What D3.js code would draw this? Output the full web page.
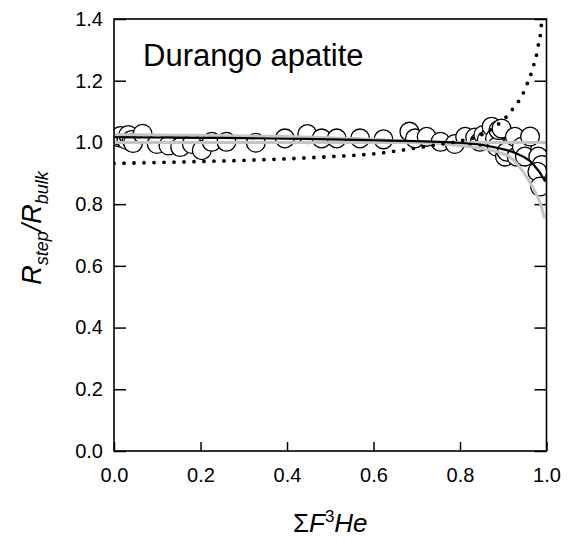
<!DOCTYPE html>
<html>
<head>
<meta charset="utf-8">
<script src="https://cdn.jsdelivr.net/npm/d3@7.9.0/dist/d3.min.js"></script>
<style>
  body { margin: 0; background: #fff; }
  svg text { font-family: "Liberation Sans", Arial, sans-serif; fill: #000; }
</style>
</head>
<body>
<svg id="chart" width="574" height="540"></svg>
<script>
// measured step data (circles)
const obsX = [0.012, 0.015, 0.029, 0.033, 0.041, 0.044, 0.066, 0.099, 0.126, 0.153, 0.18, 0.203,
  0.226, 0.26, 0.328, 0.395, 0.447, 0.48, 0.515, 0.569, 0.623, 0.683, 0.696, 0.723, 0.755, 0.788,
  0.812, 0.835, 0.846, 0.854, 0.862, 0.873, 0.881, 0.885, 0.889, 0.896, 0.904, 0.908, 0.927, 0.931,
  0.943, 0.95, 0.962, 0.981, 0.989, 0.979, 0.985];
const obsY = [1.016, 1.021, 1.008, 1.024, 1.008, 0.998, 1.028, 0.995, 0.99, 0.985, 0.995, 0.975,
  1.002, 1.002, 0.999, 1.013, 1.027, 1.013, 1.013, 1.013, 1.01, 1.035, 1.013, 1.018, 1.002, 0.995,
  1.018, 1.016, 1.002, 1.024, 1.008, 1.051, 1.013, 0.986, 1.04, 1.045, 0.954, 0.97, 1.018, 0.954,
  0.986, 0.954, 1.019, 0.954, 0.927, 0.905, 0.857];

// black model curve
const blackX = [0, 0.1, 0.2, 0.3, 0.4, 0.5, 0.6, 0.7, 0.78, 0.85, 0.89, 0.92, 0.946, 0.965, 0.977, 0.988, 0.997];
const blackY = [1.017, 1.016, 1.015, 1.014, 1.012, 1.01, 1.007, 1.004, 1.0, 0.992, 0.981, 0.97, 0.954, 0.936, 0.916, 0.895, 0.873];

// gray model curve
const grayX = [0, 0.1, 0.2, 0.3, 0.4, 0.5, 0.6, 0.7, 0.8, 0.85, 0.885, 0.916, 0.946, 0.969, 0.985, 0.995];
const grayY = [1.025, 1.024, 1.023, 1.021, 1.019, 1.015, 1.01, 1.0, 0.99, 0.98, 0.97, 0.952, 0.905, 0.852, 0.805, 0.755];

// dotted model curve
const dotX = [0, 0.1, 0.2, 0.3, 0.4, 0.5, 0.6, 0.68, 0.75, 0.8, 0.85, 0.88, 0.909, 0.927, 0.943, 0.953,
  0.962, 0.969, 0.976, 0.98, 0.985, 0.988, 0.991];
const dotY = [0.932, 0.935, 0.938, 0.942, 0.947, 0.954, 0.963, 0.978, 0.993, 1.005, 1.025, 1.05, 1.086,
  1.118, 1.15, 1.183, 1.212, 1.245, 1.277, 1.309, 1.34, 1.38, 1.43];

const refLevel = 1.0;
const xTicks = [0, 0.2, 0.4, 0.6, 0.8, 1.0];
const yTicks = [0, 0.2, 0.4, 0.6, 0.8, 1.0, 1.2, 1.4];

const svg = d3.select('#chart');
const x0 = 114, x1 = 546.5, y0 = 19, y1 = 451;
const x = d3.scaleLinear().domain([0, 1]).range([x0, x1]);
const y = d3.scaleLinear().domain([0, 1.4]).range([y1, y0]);

svg.append('clipPath').attr('id', 'plot')
  .append('rect').attr('x', x0).attr('y', y0)
  .attr('width', x1 - x0).attr('height', y1 - y0);

// axes
const xAxis = svg.append('g').attr('transform', `translate(0,${y1})`)
  .call(d3.axisBottom(x).tickValues(xTicks).tickSize(-9).tickPadding(17).tickFormat(d3.format('.1f')));
const yAxis = svg.append('g').attr('transform', `translate(${x0},0)`)
  .call(d3.axisLeft(y).tickValues(yTicks).tickSize(-12).tickPadding(11).tickFormat(d3.format('.1f')));
const rAxis = svg.append('g').attr('transform', `translate(${x1},0)`)
  .call(d3.axisRight(y).tickValues(yTicks).tickSize(-12).tickFormat(''));
[xAxis, yAxis, rAxis].forEach(g => {
  g.select('.domain').remove();
  g.selectAll('line').attr('stroke', '#000').attr('stroke-width', 1.5);
  g.selectAll('text').style('font-size', '20px').style('font-family', '"Liberation Sans", Arial, sans-serif');
});

const plot = svg.append('g').attr('clip-path', 'url(#plot)');

// circles
plot.selectAll('circle')
  .data(obsX.map((d, i) => [d, obsY[i]]))
  .enter()
  .append('circle')
  .attr('cx', d => x(d[0]))
  .attr('cy', d => y(d[1]))
  .attr('r', 9.4)
  .attr('fill', '#fff')
  .attr('stroke', '#000')
  .attr('stroke-width', 1.3);

const line = d3.line().x(d => x(d[0])).y(d => y(d[1])).curve(d3.curveMonotoneX);

// reference line at 1.0
plot.append('path')
  .attr('d', line([[0, refLevel], [1, refLevel]]))
  .attr('fill', 'none').attr('stroke', '#c4c4c4').attr('stroke-width', 3);

plot.append('path')
  .attr('d', line(grayX.map((d, i) => [d, grayY[i]])))
  .attr('fill', 'none').attr('stroke', '#c4c4c4').attr('stroke-width', 3);

plot.append('path')
  .attr('d', line(blackX.map((d, i) => [d, blackY[i]])))
  .attr('fill', 'none').attr('stroke', '#000').attr('stroke-width', 2.2);

plot.append('path')
  .attr('d', line(dotX.map((d, i) => [d, dotY[i]])))
  .attr('fill', 'none').attr('stroke', '#000').attr('stroke-width', 3.8)
  .attr('stroke-linecap', 'round').attr('stroke-dasharray', '0,10');

// frame
svg.append('rect')
  .attr('x', x0).attr('y', y0)
  .attr('width', x1 - x0).attr('height', y1 - y0)
  .attr('fill', 'none').attr('stroke', '#000').attr('stroke-width', 1.6);

// labels
svg.append('text')
  .attr('x', 143).attr('y', 66)
  .style('font-size', '31px')
  .text('Durango apatite');

const xt = svg.append('text')
  .attr('x', (x0 + x1) / 2).attr('y', 532)
  .attr('text-anchor', 'middle')
  .style('font-size', '26px');
xt.append('tspan').text('\u03A3');
xt.append('tspan').style('font-style', 'italic').text('F');
xt.append('tspan').attr('dy', -10).style('font-size', '17px').text('3');
xt.append('tspan').attr('dy', 10).style('font-style', 'italic').text('He');

const yt = svg.append('text')
  .attr('transform', 'translate(41,228) rotate(-90)')
  .attr('text-anchor', 'middle')
  .style('font-size', '27px').style('font-style', 'italic');
yt.append('tspan').text('R');
yt.append('tspan').attr('dy', 7).style('font-size', '18px').text('step');
yt.append('tspan').attr('dy', -7).text('/R');
yt.append('tspan').attr('dy', 7).style('font-size', '18px').text('bulk');
</script>
</body>
</html>
